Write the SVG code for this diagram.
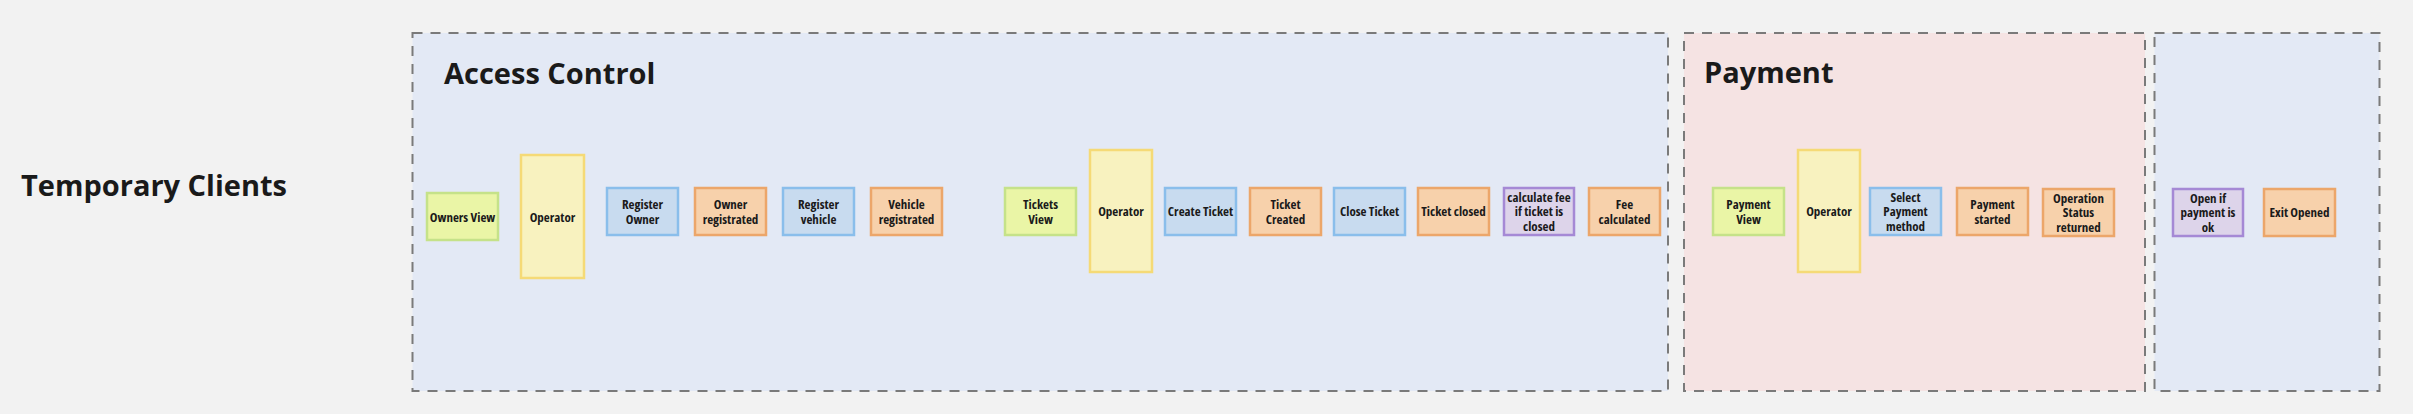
<svg xmlns="http://www.w3.org/2000/svg" width="2413" height="414" viewBox="0 0 2413 414">
<style>
.bg{fill:#f2f2f2}
.frame{stroke:#7a7a7a;stroke-width:2;stroke-dasharray:10 8}
.fb{fill:#e3e9f5}
.fp{fill:#f5e3e3}
.title{font-family:"Open Sans","Noto Sans","Liberation Sans",sans-serif;font-weight:700;font-size:29px;fill:#1a1a1a}
.n rect{stroke-width:2.5}
.n text{font-family:"Open Sans","Noto Sans","Liberation Sans",sans-serif;font-weight:700;font-size:13px;fill:#1a1a1a;text-anchor:middle;font-stretch:80%}
.g rect{fill:#eaf5a6;stroke:#c5e289}
.y rect{fill:#f8f2bf;stroke:#f5da76}
.b rect{fill:#c8dbef;stroke:#8abeeb}
.o rect{fill:#f7d1ab;stroke:#eca66a}
.p rect{fill:#ddd4ea;stroke:#a589d5}
</style>
<rect class="bg" x="0" y="0" width="2413" height="414"/>
<g id="lane-temporary-clients"><text class="title" x="21" y="196">Temporary Clients</text></g>
<g id="access-control">
<rect class="frame fb" x="412.5" y="33" width="1255.5" height="358"/>
<text class="title" x="444" y="84">Access Control</text>
</g>
<g id="payment">
<rect class="frame fp" x="1684" y="33" width="461" height="358"/>
<text class="title" x="1704" y="83">Payment</text>
</g>
<g id="exit">
<rect class="frame fb" x="2154.5" y="33" width="225" height="358"/>
</g>
<g id="connectors"></g>
<g id="owners-view" class="n g"><rect x="427" y="193" width="71" height="47"/><text x="462.5" y="221.5">Owners View</text></g>
<g id="operator-1" class="n y"><rect x="521" y="155" width="63" height="123"/><text x="552.5" y="221.5">Operator</text></g>
<g id="register-owner" class="n b"><rect x="607" y="188" width="71" height="47"/><text x="642.5" y="209">Register<tspan x="642.5" dy="15">Owner</tspan></text></g>
<g id="owner-registrated" class="n o"><rect x="695" y="188" width="71" height="47"/><text x="730.5" y="209">Owner<tspan x="730.5" dy="15">registrated</tspan></text></g>
<g id="register-vehicle" class="n b"><rect x="783" y="188" width="71" height="47"/><text x="818.5" y="209">Register<tspan x="818.5" dy="15">vehicle</tspan></text></g>
<g id="vehicle-registrated" class="n o"><rect x="871" y="188" width="71" height="47"/><text x="906.5" y="209">Vehicle<tspan x="906.5" dy="15">registrated</tspan></text></g>
<g id="tickets-view" class="n g"><rect x="1005" y="188" width="71" height="47"/><text x="1040.5" y="209">Tickets<tspan x="1040.5" dy="15">View</tspan></text></g>
<g id="operator-2" class="n y"><rect x="1090" y="150" width="62" height="122"/><text x="1121" y="216">Operator</text></g>
<g id="create-ticket" class="n b"><rect x="1165" y="188" width="71" height="47"/><text x="1200.5" y="216">Create Ticket</text></g>
<g id="ticket-created" class="n o"><rect x="1250" y="188" width="71" height="47"/><text x="1285.5" y="209">Ticket<tspan x="1285.5" dy="15">Created</tspan></text></g>
<g id="close-ticket" class="n b"><rect x="1334" y="188" width="71" height="47"/><text x="1369.5" y="216">Close Ticket</text></g>
<g id="ticket-closed" class="n o"><rect x="1418" y="188" width="71" height="47"/><text x="1453.5" y="216">Ticket closed</text></g>
<g id="calculate-fee" class="n p"><rect x="1504" y="188" width="70" height="47"/><text x="1539" y="201.5">calculate fee<tspan x="1539" dy="14.5">if ticket is</tspan><tspan x="1539" dy="14.5">closed</tspan></text></g>
<g id="fee-calculated" class="n o"><rect x="1589" y="188" width="71" height="47"/><text x="1624.5" y="209">Fee<tspan x="1624.5" dy="15">calculated</tspan></text></g>
<g id="payment-view" class="n g"><rect x="1713" y="188" width="71" height="47"/><text x="1748.5" y="209">Payment<tspan x="1748.5" dy="15">View</tspan></text></g>
<g id="operator-3" class="n y"><rect x="1798" y="150" width="62" height="122"/><text x="1829" y="216">Operator</text></g>
<g id="select-payment-method" class="n b"><rect x="1870" y="188" width="71" height="47"/><text x="1905.5" y="201.5">Select<tspan x="1905.5" dy="14.5">Payment</tspan><tspan x="1905.5" dy="14.5">method</tspan></text></g>
<g id="payment-started" class="n o"><rect x="1957" y="188" width="71" height="47"/><text x="1992.5" y="209">Payment<tspan x="1992.5" dy="15">started</tspan></text></g>
<g id="operation-status-returned" class="n o"><rect x="2043" y="189" width="71" height="47"/><text x="2078.5" y="202.5">Operation<tspan x="2078.5" dy="14.5">Status</tspan><tspan x="2078.5" dy="14.5">returned</tspan></text></g>
<g id="open-if-payment-ok" class="n p"><rect x="2173" y="189" width="70" height="47"/><text x="2208" y="202.5">Open if<tspan x="2208" dy="14.5">payment is</tspan><tspan x="2208" dy="14.5">ok</tspan></text></g>
<g id="exit-opened" class="n o"><rect x="2264" y="189" width="71" height="47"/><text x="2299.5" y="217">Exit Opened</text></g>
</svg>
